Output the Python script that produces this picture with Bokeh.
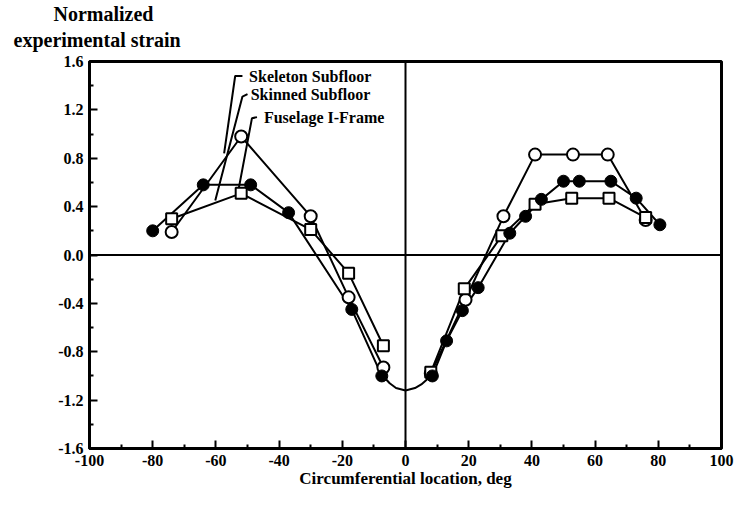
import numpy as np
from bokeh.plotting import figure
from bokeh.models import Range1d, FixedTicker, Span, Label, Title
from bokeh.embed import file_html
from bokeh.resources import INLINE

# ---- data ----
skeleton_x = [-74, -52, -30, -18, -7, 8, 19, 31, 41, 53, 64, 76]
skeleton_y = [0.19, 0.98, 0.32, -0.35, -0.93, -0.98, -0.37, 0.32, 0.83, 0.83, 0.83, 0.29]

skinned_x = [-80, -64, -49, -37, -17, -7.5, 8.5, 13, 18, 23, 33, 38, 43, 50, 55, 65, 73, 80.5]
skinned_y = [0.20, 0.58, 0.58, 0.35, -0.45, -1.0, -1.0, -0.71, -0.46, -0.27, 0.18, 0.32, 0.46, 0.61, 0.61, 0.61, 0.47, 0.25]

iframe_x = [-74, -52, -30, -18, -7, 8, 18.6, 30.5, 41, 52.6, 64.4, 76]
iframe_y = [0.30, 0.51, 0.21, -0.15, -0.75, -0.97, -0.28, 0.16, 0.42, 0.47, 0.47, 0.31]

# faired curve through the bottom of the distribution
bottom_x = [-7.5, -5, -3, 0, 3, 5, 8.5]
bottom_y = [-0.99, -1.06, -1.10, -1.12, -1.10, -1.07, -0.99]

x_ticks = [-100, -80, -60, -40, -20, 0, 20, 40, 60, 80, 100]
x_tick_labels = ["-100", "-80", "-60", "-40", "-20", "0", "20", "40", "60", "80", "100"]
x_minor = [-90, -70, -50, -30, -10, 10, 30, 50, 70, 90]
y_ticks = [-1.6, -1.2, -0.8, -0.4, 0.0, 0.4, 0.8, 1.2, 1.6]
y_tick_labels = ["-1.6", "-1.2", "-0.8", "-0.4", "0.0", "0.4", "0.8", "1.2", "1.6"]
y_minor = [-1.4, -1.0, -0.6, -0.2, 0.2, 0.6, 1.0, 1.4]

series_names = ["Skeleton Subfloor", "Skinned Subfloor", "Fuselage I-Frame"]
# label anchors (data units) and leader polylines
label_x = [-49.5, -49.0, -44.8]
label_y = [1.48, 1.33, 1.14]
leader_xs = [[-51.6, -53.9, -57.4], [-50.0, -51.6, -60.2], [-47.0, -48.6, -52.7]]
leader_ys = [[1.48, 1.48, 0.84], [1.33, 1.31, 0.45], [1.14, 1.13, 0.56]]

y_title_lines = ["Normalized", "experimental strain"]

FONT = "Liberation Serif"

p = figure(width=740, height=496, output_backend="svg", toolbar_location=None,
           x_range=Range1d(-100, 100), y_range=Range1d(-1.6, 1.6),
           min_border_left=89, min_border_right=19, min_border_top=61, min_border_bottom=48)
p.xgrid.visible = False
p.ygrid.visible = False
p.outline_line_color = "black"
p.outline_line_width = 3
p.outline_line_alpha = 1
p.background_fill_color = "white"
p.border_fill_color = "white"

p.xaxis.ticker = FixedTicker(ticks=x_ticks, minor_ticks=x_minor)
p.yaxis.ticker = FixedTicker(ticks=y_ticks, minor_ticks=y_minor)
p.xaxis.major_label_overrides = {v: l for v, l in zip(x_ticks, x_tick_labels)}
p.yaxis.major_label_overrides = {v: l for v, l in zip(y_ticks, y_tick_labels)}

for ax in (p.xaxis[0], p.yaxis[0]):
    ax.axis_line_width = 3
    ax.axis_line_color = "black"
    ax.major_tick_in = 8
    ax.major_tick_out = 0
    ax.minor_tick_in = 4
    ax.minor_tick_out = 0
    ax.major_tick_line_width = 2
    ax.minor_tick_line_width = 2
    ax.major_tick_line_color = "black"
    ax.minor_tick_line_color = "black"
    ax.major_label_text_font = FONT
    ax.major_label_text_font_style = "bold"
    ax.major_label_text_font_size = "16px"
    ax.major_label_text_color = "black"

p.xaxis.major_label_standoff = 6
p.yaxis.major_label_standoff = 6
p.xaxis.axis_label = "Circumferential location, deg"
p.xaxis.axis_label_text_font = FONT
p.xaxis.axis_label_text_font_style = "bold"
p.xaxis.axis_label_text_font_size = "17px"
p.xaxis.axis_label_text_color = "black"
p.xaxis.axis_label_standoff = 0

# two-line y title above the frame (first added sits closest to the frame)
p.add_layout(Title(text=y_title_lines[1], text_font=FONT, text_font_style="bold",
                   text_font_size="20px", text_color="black", align="left",
                   offset=-76, standoff=22), "above")
p.add_layout(Title(text=y_title_lines[0], text_font=FONT, text_font_style="bold",
                   text_font_size="20px", text_color="black", align="left",
                   offset=-36, standoff=-18), "above")

p.add_layout(Span(location=0, dimension="width", line_color="black", line_width=2))
p.add_layout(Span(location=0, dimension="height", line_color="black", line_width=2))

def draw_lines(xs, ys):
    xs = np.asarray(xs, float)
    ys = np.asarray(ys, float)
    for m in (xs < 0, xs > 0):
        p.line(xs[m], ys[m], line_color="black", line_width=2)

draw_lines(skeleton_x, skeleton_y)
draw_lines(skinned_x, skinned_y)
draw_lines(iframe_x, iframe_y)
p.line(bottom_x, bottom_y, line_color="black", line_width=2)

p.scatter(skeleton_x, skeleton_y, marker="circle", size=12, fill_color="white",
          line_color="black", line_width=2)
p.scatter(iframe_x, iframe_y, marker="square", size=11, fill_color="white",
          line_color="black", line_width=2)
p.scatter(skinned_x, skinned_y, marker="circle", size=12, fill_color="black",
          line_color="black", line_width=1)

for name, lx, ly, sx, sy in zip(series_names, label_x, label_y, leader_xs, leader_ys):
    p.line(sx, sy, line_color="black", line_width=2)
    p.add_layout(Label(x=lx, y=ly, text=name, text_font=FONT, text_font_style="bold",
                       text_font_size="16px", text_align="left", text_baseline="middle",
                       text_color="black"))

open("out.html", "w").write(file_html(p, INLINE))
